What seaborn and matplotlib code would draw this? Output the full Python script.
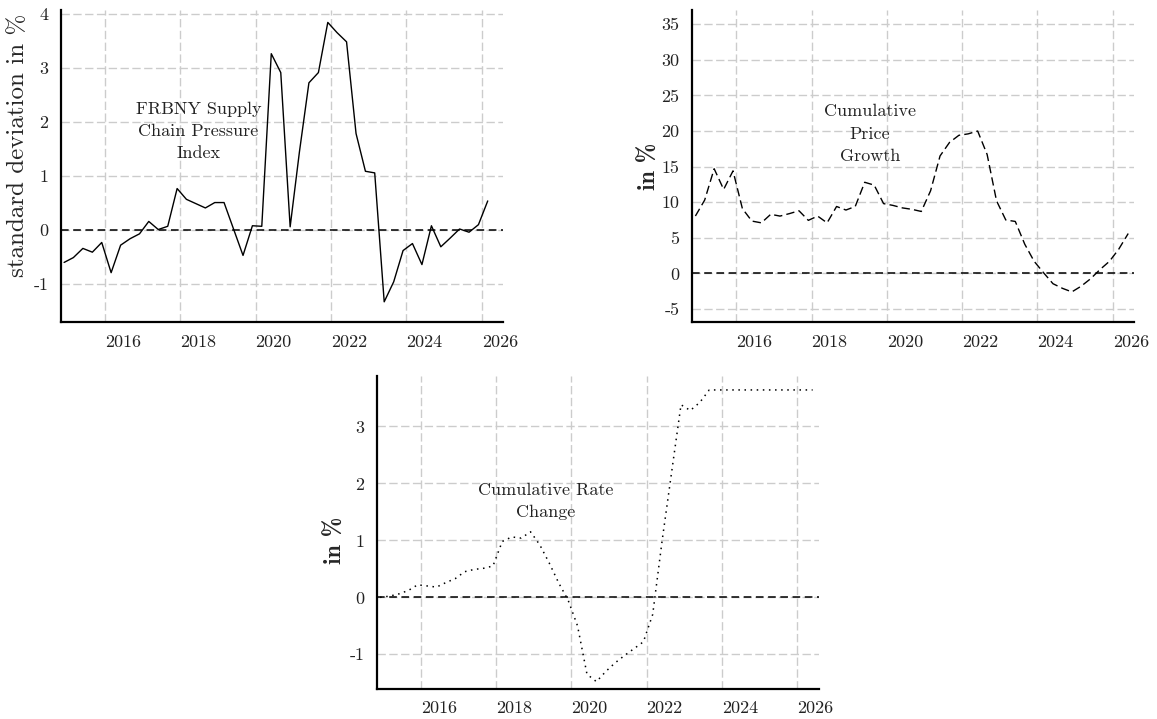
import pandas as pd
import numpy as np
import matplotlib
matplotlib.use("Agg")
import matplotlib.pyplot as plt
import seaborn as sns

# quarterly observations
dates_scpi = pd.date_range("2014-12-01", periods=46, freq="3MS")
dates_long = pd.date_range("2014-12-01", periods=47, freq="3MS")

# FRBNY supply chain pressure index (std. deviations)
scpi = [-0.60, -0.51, -0.34, -0.41, -0.23, -0.79, -0.28, -0.16, -0.07, 0.16,
        0.01, 0.07, 0.77, 0.57, 0.49, 0.41, 0.51, 0.51, 0.02, -0.47,
        0.08, 0.07, 3.27, 2.92, 0.06, 1.45, 2.73, 2.92, 3.85, 3.66,
        3.49, 1.79, 1.09, 1.06, -1.33, -0.96, -0.38, -0.25, -0.64, 0.08,
        -0.31, -0.15, 0.02, -0.04, 0.10, 0.54]

# cumulative price growth (%)
price_growth = [8.06, 10.3, 14.7, 11.8, 14.4, 9.1, 7.35, 7.1, 8.3, 8.05,
                8.4, 8.8, 7.45, 8.05, 7.1, 9.4, 8.9, 9.4, 12.8, 12.4,
                9.8, 9.55, 9.2, 9.0, 8.7, 11.6, 16.5, 18.4, 19.4, 19.6,
                20.0, 16.7, 10.2, 7.5, 7.3, 4.1, 1.7, 0.1, -1.45, -2.1,
                -2.6, -1.8, -0.75, 0.55, 1.7, 3.4, 5.6]

# cumulative rate change (%)
rate_change = [0.00, 0.02, 0.06, 0.12, 0.22, 0.20, 0.18, 0.26, 0.33, 0.45,
               0.49, 0.51, 0.55, 0.98, 1.06, 1.04, 1.15, 0.92, 0.60, 0.25,
               -0.05, -0.50, -1.35, -1.48, -1.30, -1.15, -1.02, -0.90, -0.78, -0.30,
               1.00, 2.20, 3.38, 3.28, 3.42, 3.64, 3.64, 3.64, 3.64, 3.64,
               3.64, 3.64, 3.64, 3.64, 3.64, 3.64, 3.64]

year_ticks = [2016, 2018, 2020, 2022, 2024, 2026]
scpi_ticks = [-1, 0, 1, 2, 3, 4]
price_ticks = [-5, 0, 5, 10, 15, 20, 25, 30, 35]
rate_ticks = [-1, 0, 1, 2, 3]

df_scpi = pd.DataFrame({"date": dates_scpi, "value": scpi})
df_price = pd.DataFrame({"date": dates_long, "value": price_growth})
df_rate = pd.DataFrame({"date": dates_long, "value": rate_change})

sns.set_theme(style="ticks")
plt.rcParams["font.family"] = ["cmr10", "DejaVu Serif"]
plt.rcParams["axes.unicode_minus"] = False
plt.rcParams["axes.formatter.use_mathtext"] = False

fig = plt.figure(figsize=(11.57, 7.19), dpi=100)
W, H = 1157, 719


def box(left, top, right, bottom):
    return [left / W, 1 - bottom / H, (right - left) / W, (bottom - top) / H]


ax1 = fig.add_axes(box(60.7, 10, 503.3, 322.3))
ax2 = fig.add_axes(box(692, 10, 1134.3, 322.3))
ax3 = fig.add_axes(box(376.7, 375.7, 818.7, 688.5))

xmin = pd.Timestamp("2014-10-29")
xmax = pd.Timestamp("2026-07-30")
tick_dates = [pd.Timestamp(f"{y}-01-01") for y in year_ticks]


def style_axis(ax, ticks, ylim):
    ax.set_xlim(xmin, xmax)
    ax.set_ylim(*ylim)
    ax.set_yticks(ticks)
    ax.set_xticks(tick_dates)
    ax.set_xticklabels([str(y) for y in year_ticks], ha="left")
    ax.grid(True, color="#cccccc", linestyle=(0, (6, 2.5)), linewidth=1.0)
    ax.axhline(0, color="black", linestyle=(0, (5, 3)), linewidth=1.1, zorder=3)
    ax.tick_params(length=0, labelsize=13, pad=9, colors="#222222")
    ax.set_xlabel("")
    for side in ["left", "bottom"]:
        ax.spines[side].set_linewidth(1.6)
        ax.spines[side].set_color("black")
    sns.despine(ax=ax)


sns.lineplot(data=df_scpi, x="date", y="value", ax=ax1, color="black", linewidth=1.0)
style_axis(ax1, scpi_ticks, (-1.71, 4.08))
ax1.set_ylabel("standard deviation in %", fontsize=18)
ax1.yaxis.set_label_coords(-0.072, 0.565)
ax1.text(pd.Timestamp("2018-06-25"), 1.83, "FRBNY Supply\nChain Pressure\nIndex",
         ha="center", va="center", fontsize=13, linespacing=1.55, color="#222222")

sns.lineplot(data=df_price, x="date", y="value", ax=ax2, color="black", linewidth=1.0,
             linestyle=(0, (6, 3)))
style_axis(ax2, price_ticks, (-6.87, 37.0))
ax2.set_ylabel("in %", fontsize=17, fontfamily="cmb10", labelpad=0)
ax2.text(pd.Timestamp("2019-07-20"), 19.6, "Cumulative\nPrice\nGrowth",
         ha="center", va="center", fontsize=13, linespacing=1.55, color="#222222")

sns.lineplot(data=df_rate, x="date", y="value", ax=ax3, color="black", linewidth=1.1,
             linestyle=(0, (1, 3)))
style_axis(ax3, rate_ticks, (-1.60, 3.89))
ax3.set_ylabel("in %", fontsize=17, fontfamily="cmb10")
ax3.yaxis.set_label_coords(-0.068, 0.475)
ax3.text(pd.Timestamp("2019-04-25"), 1.68, "Cumulative Rate\nChange",
         ha="center", va="center", fontsize=13, linespacing=1.55, color="#222222")

fig.savefig("out.png", dpi=100)
